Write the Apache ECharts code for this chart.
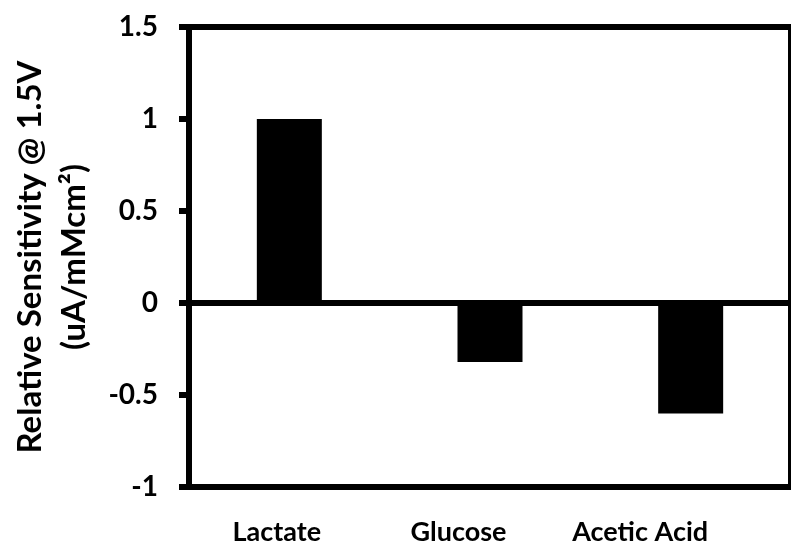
<!DOCTYPE html>
<html>
<head>
<meta charset="utf-8">
<script src="https://cdn.jsdelivr.net/npm/echarts@6/dist/echarts.min.js"></script>
<style>html,body{margin:0;padding:0;background:#fff}#c{width:791px;height:548px}</style>
</head>
<body>
<div id="c"></div>
<script>
const categories = ['Lactate', 'Glucose', 'Acetic Acid'];
const values = [1.0, -0.32, -0.6];
const yTicks = [-1, -0.5, 0, 0.5, 1, 1.5];
const yTitle = 'Relative Sensitivity @ 1.5V\n(uA/mMcm²)';

const FONT = 'Lato';
const chart = echarts.init(document.getElementById('c'), null, {renderer: 'canvas'});
chart.setOption({
  animation: false,
  backgroundColor: '#fff',
  grid: [
    {left: 183, right: -3, top: 27, bottom: 61, show: true, borderColor: '#000', borderWidth: 6},
    {left: 186, right: 60, top: 27, bottom: 61}
  ],
  xAxis: [
    {type: 'category', gridIndex: 0, data: categories,
     axisLine: {show: true, onZero: false, lineStyle: {color: '#000', width: 6}},
     axisTick: {show: false}, axisLabel: {show: false}},
    {type: 'category', gridIndex: 1, data: categories, position: 'bottom',
     axisLine: {show: false}, axisTick: {show: false},
     axisLabel: {color: '#000', fontFamily: FONT, fontWeight: 'bold', fontSize: 27, margin: 32}}
  ],
  yAxis: [
    {type: 'value', gridIndex: 0, min: yTicks[0], max: yTicks[yTicks.length - 1], interval: 0.5,
     splitLine: {show: false},
     axisLine: {show: true, onZero: false, lineStyle: {color: '#000', width: 6}},
     axisTick: {show: true, length: 10, lineStyle: {color: '#000', width: 6}},
     axisLabel: {color: '#000', fontFamily: FONT, fontWeight: 'bold', fontSize: 28, margin: 31},
     name: yTitle, nameLocation: 'middle', nameGap: 93, nameRotate: 90,
     nameTextStyle: {color: '#000', fontFamily: FONT, fontWeight: 'bold', fontSize: 33, lineHeight: 44}},
    {type: 'value', gridIndex: 1, min: yTicks[0], max: yTicks[yTicks.length - 1], show: false}
  ],
  series: [{
    type: 'bar', xAxisIndex: 0, yAxisIndex: 0, data: values, barWidth: 65,
    itemStyle: {color: '#000'},
    markLine: {silent: true, symbol: ['none', 'none'], label: {show: false},
      lineStyle: {color: '#000', width: 6, type: 'solid'}, data: [{yAxis: 0}]}
  }]
});
</script>
</body>
</html>
